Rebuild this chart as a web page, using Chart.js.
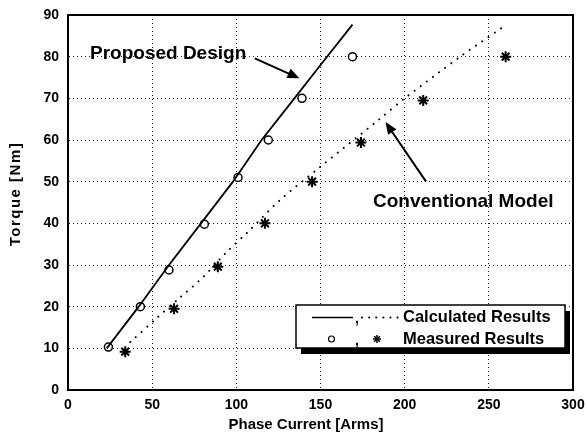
<!DOCTYPE html>
<html>
<head>
<meta charset="utf-8">
<script src="https://cdn.jsdelivr.net/npm/chart.js@4/dist/chart.umd.min.js"></script>
<style>
  html, body { margin: 0; padding: 0; background: #fff; }
  #wrap { width: 587px; height: 440px; }
</style>
</head>
<body>
<div id="wrap"><canvas id="torque-chart" width="587" height="440"></canvas></div>
<script>
// calculated curves
const propCalcX = [23, 42, 60, 79, 98, 115, 134.5, 150, 169];
const propCalcY = [10, 20, 30, 40, 50, 60, 70, 78, 87.7];
const convCalcX = [37, 52, 66, 80, 94, 107, 126, 150, 185, 200, 233, 258];
const convCalcY = [11.5, 17, 22, 27, 33, 38, 45.6, 53.6, 65, 70, 80, 87];

// measured points
const propMeasX = [24, 43, 60, 81, 101, 119, 139, 169];
const propMeasY = [10.3, 20, 28.8, 39.8, 51, 60, 70, 80];
const convMeasX = [34, 63, 89, 117, 145, 174, 211, 260];
const convMeasY = [9.2, 19.5, 29.6, 40, 50, 59.4, 69.5, 80];

const xTicks = [0, 50, 100, 150, 200, 250, 300];
const yTicks = [0, 10, 20, 30, 40, 50, 60, 70, 80, 90];

const toXY = (xs, ys) => xs.map((x, i) => ({x: x, y: ys[i]}));

const FONT = '"Liberation Sans", Arial, sans-serif';

// frame, axis titles, annotations and the custom legend
const extras = {
    id: 'extras',
    afterDraw(chart) {
        const ctx = chart.ctx;
        const a = chart.chartArea;
        const xs = chart.scales.x, ys = chart.scales.y;
        ctx.save();

        // plot frame
        ctx.strokeStyle = '#000';
        ctx.lineWidth = 2;
        ctx.strokeRect(a.left, a.top, a.right - a.left, a.bottom - a.top);

        // axis titles
        ctx.fillStyle = '#000';
        ctx.textBaseline = 'middle';
        ctx.textAlign = 'center';
        ctx.font = 'bold 15px ' + FONT;
        ctx.fillText('Phase Current [Arms]', 306, 425);
        ctx.save();
        ctx.translate(16, 194);
        ctx.rotate(-Math.PI / 2);
        ctx.letterSpacing = '1.5px';
        ctx.fillText('Torque [Nm]', 0, 0);
        ctx.restore();

        // arrows
        const arrow = (x1, y1, x2, y2) => {
            let px1 = xs.getPixelForValue(x1), py1 = ys.getPixelForValue(y1);
            let px2 = xs.getPixelForValue(x2), py2 = ys.getPixelForValue(y2);
            let ang = Math.atan2(py2 - py1, px2 - px1);
            ctx.strokeStyle = '#000';
            ctx.lineWidth = 2;
            ctx.beginPath();
            ctx.moveTo(px1, py1);
            ctx.lineTo(px2 - 8 * Math.cos(ang), py2 - 8 * Math.sin(ang));
            ctx.stroke();
            ctx.fillStyle = '#000';
            ctx.beginPath();
            ctx.moveTo(px2, py2);
            ctx.lineTo(px2 - 12 * Math.cos(ang) + 5 * Math.sin(ang), py2 - 12 * Math.sin(ang) - 5 * Math.cos(ang));
            ctx.lineTo(px2 - 12 * Math.cos(ang) - 5 * Math.sin(ang), py2 - 12 * Math.sin(ang) + 5 * Math.cos(ang));
            ctx.closePath();
            ctx.fill();
        };
        arrow(111, 79.6, 137.5, 74.8);
        arrow(212.7, 50, 188.6, 64.3);

        ctx.fillStyle = '#000';
        ctx.font = 'bold 19px ' + FONT;
        ctx.textAlign = 'left';
        ctx.fillText('Proposed Design', 90, 54);
        ctx.fillText('Conventional Model', 373, 202);

        // legend box with shadow
        let lx = 296, ly = 305, lw = 269, lh = 43;
        ctx.fillStyle = '#000';
        ctx.fillRect(lx + 5, ly + 6, lw, lh);
        ctx.fillStyle = '#fff';
        ctx.fillRect(lx, ly, lw, lh);
        ctx.strokeStyle = '#000';
        ctx.lineWidth = 1.5;
        ctx.strokeRect(lx, ly, lw, lh);

        let r1 = 317.5, r2 = 339;
        ctx.lineWidth = 1.5;
        ctx.beginPath();
        ctx.moveTo(312, r1);
        ctx.lineTo(353, r1);
        ctx.stroke();
        ctx.setLineDash([0.1, 7]);
        ctx.lineCap = 'round';
        ctx.lineWidth = 2;
        ctx.beginPath();
        ctx.moveTo(362, r1);
        ctx.lineTo(401, r1);
        ctx.stroke();
        ctx.setLineDash([]);
        ctx.lineCap = 'butt';

        ctx.fillStyle = '#000';
        ctx.font = 'bold 14px ' + FONT;
        ctx.fillText(',', 355, r1 + 2);
        ctx.fillText(',', 355, r2 + 2);

        ctx.lineWidth = 1.2;
        ctx.beginPath();
        ctx.arc(331.5, r2, 3, 0, Math.PI * 2);
        ctx.stroke();
        ctx.lineWidth = 1.5;
        for (let k = 0; k < 4; k++) {
            let t = k * Math.PI / 4;
            ctx.beginPath();
            ctx.moveTo(377 - 4 * Math.cos(t), r2 - 4 * Math.sin(t));
            ctx.lineTo(377 + 4 * Math.cos(t), r2 + 4 * Math.sin(t));
            ctx.stroke();
        }

        ctx.font = 'bold 16.5px ' + FONT;
        ctx.fillText('Calculated Results', 403, r1);
        ctx.fillText('Measured Results', 403, r2);

        ctx.restore();
    }
};

let chart = new Chart(document.getElementById('torque-chart').getContext('2d'), {
    type: 'scatter',
    data: {
        datasets: [{
            label: 'Proposed calculated',
            data: toXY(propCalcX, propCalcY),
            showLine: true,
            borderColor: '#000',
            borderWidth: 1.8,
            pointRadius: 0,
            tension: 0
        }, {
            label: 'Conventional calculated',
            data: toXY(convCalcX, convCalcY),
            showLine: true,
            borderColor: '#000',
            borderWidth: 2,
            borderDash: [0.1, 7.5],
            borderCapStyle: 'round',
            pointRadius: 0,
            tension: 0.3
        }, {
            label: 'Proposed measured',
            data: toXY(propMeasX, propMeasY),
            pointStyle: 'circle',
            pointRadius: 4,
            pointBackgroundColor: '#fff',
            pointBorderColor: '#000',
            pointBorderWidth: 1.5
        }, {
            label: 'Conventional measured',
            data: toXY(convMeasX, convMeasY),
            pointStyle: 'star',
            pointRadius: 5.5,
            pointBorderColor: '#000',
            pointBackgroundColor: '#000',
            pointBorderWidth: 2
        }]
    },
    options: {
        responsive: false,
        animation: false,
        layout: { padding: { left: 0, right: 14, top: 15, bottom: 0 } },
        plugins: {
            legend: { display: false },
            tooltip: { enabled: false }
        },
        scales: {
            x: {
                type: 'linear',
                min: 0,
                max: 300,
                afterBuildTicks: s => { s.ticks = xTicks.map(v => ({value: v})); },
                afterFit: s => { s.height = 50; s.paddingLeft = 0; s.paddingRight = 0; },
                grid: {
                    color: '#222',
                    drawTicks: false
                },
                border: { display: true, color: '#000', width: 2, dash: [1, 3] },
                ticks: {
                    color: '#000',
                    padding: 7,
                    font: { family: FONT, size: 14, weight: 'bold' }
                }
            },
            y: {
                type: 'linear',
                min: 0,
                max: 90,
                afterBuildTicks: s => { s.ticks = yTicks.map(v => ({value: v})); },
                afterFit: s => { s.width = 68; s.paddingTop = 0; s.paddingBottom = 0; },
                grid: {
                    color: '#222',
                    drawTicks: false
                },
                border: { display: true, color: '#000', width: 2, dash: [1, 3] },
                ticks: {
                    color: '#000',
                    padding: 9,
                    font: { family: FONT, size: 14, weight: 'bold' }
                }
            }
        }
    },
    plugins: [extras]
});
</script>
</body>
</html>
